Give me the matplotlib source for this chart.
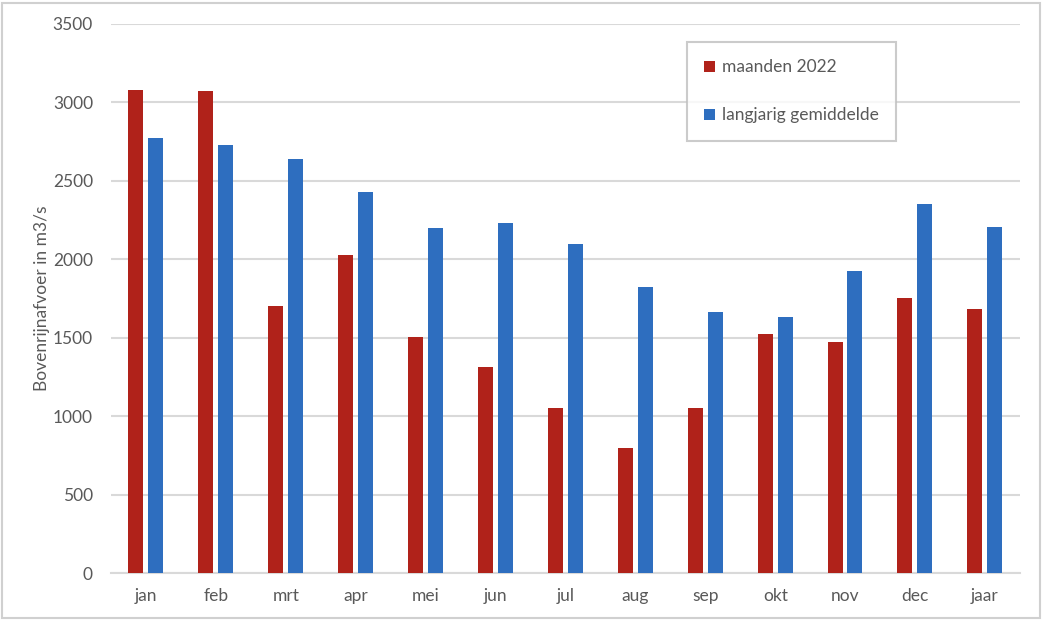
import numpy as np
import matplotlib
matplotlib.use('Agg')
from matplotlib import pyplot as plt
from matplotlib.patches import Rectangle

# data
maanden = ['jan', 'feb', 'mrt', 'apr', 'mei', 'jun', 'jul', 'aug', 'sep', 'okt', 'nov', 'dec', 'jaar']
afvoer_2022 = [3079, 3072, 1702, 2027, 1504, 1313, 1052, 797, 1052, 1523, 1472, 1753, 1683]
langjarig = [2773, 2728, 2639, 2429, 2199, 2231, 2097, 1823, 1664, 1632, 1925, 2352, 2205]

RED = '#B0221A'
BLUE = '#2E6EBF'
TXT = '#595959'
GRID = '#D9D9D9'
FS = 12.5

plt.rcParams['font.family'] = ['Lato', 'DejaVu Sans']

fig = plt.figure(figsize=(10.46, 6.2), dpi=100)
# chart frame like the spreadsheet chart object
fig.patches.append(Rectangle((2 / 1046, 2 / 620), 1038 / 1046, 615 / 620, transform=fig.transFigure,
                             fill=False, edgecolor='#D0D0D0', linewidth=1.5))

ax = fig.add_axes([111 / 1046, 1 - 573 / 620, 909 / 1046, 549 / 620])
x = np.arange(len(maanden))
w = 0.215
ax.bar(x - 0.145, afvoer_2022, width=w, color=RED, label='maanden 2022', zorder=3)
ax.bar(x + 0.14, langjarig, width=w, color=BLUE, label='langjarig gemiddelde', zorder=3)

ax.set_xlim(-0.5, len(maanden) - 0.5)
ax.set_ylim(0, 3500)
ax.set_yticks(range(0, 3501, 500))
ax.set_xticks(x)
ax.set_xticklabels(maanden)
ax.grid(axis='y', color=GRID, linewidth=1.5, zorder=0)
for s in ['top', 'right', 'left']:
    ax.spines[s].set_visible(False)
ax.spines['bottom'].set_color(GRID)
ax.spines['bottom'].set_linewidth(1.5)
ax.tick_params(axis='both', length=0, labelsize=FS, colors=TXT)
ax.tick_params(axis='y', pad=13)
ax.tick_params(axis='x', pad=11)
ax.set_ylabel('Bovenrijnafvoer in m3/s', fontsize=FS, color=TXT, labelpad=2)

leg = ax.legend(loc='upper left', bbox_to_anchor=((687 - 111) / 909, (573 - 42) / 549),
                fontsize=FS, frameon=True, fancybox=False, edgecolor='#BFBFBF',
                handlelength=0.6, handleheight=0.6, handletextpad=0.4,
                labelspacing=1.85, borderpad=1.0, borderaxespad=0)
leg.get_frame().set_linewidth(1.5)
for t in leg.get_texts():
    t.set_color(TXT)

fig.savefig('out.png', dpi=100, facecolor='white')
